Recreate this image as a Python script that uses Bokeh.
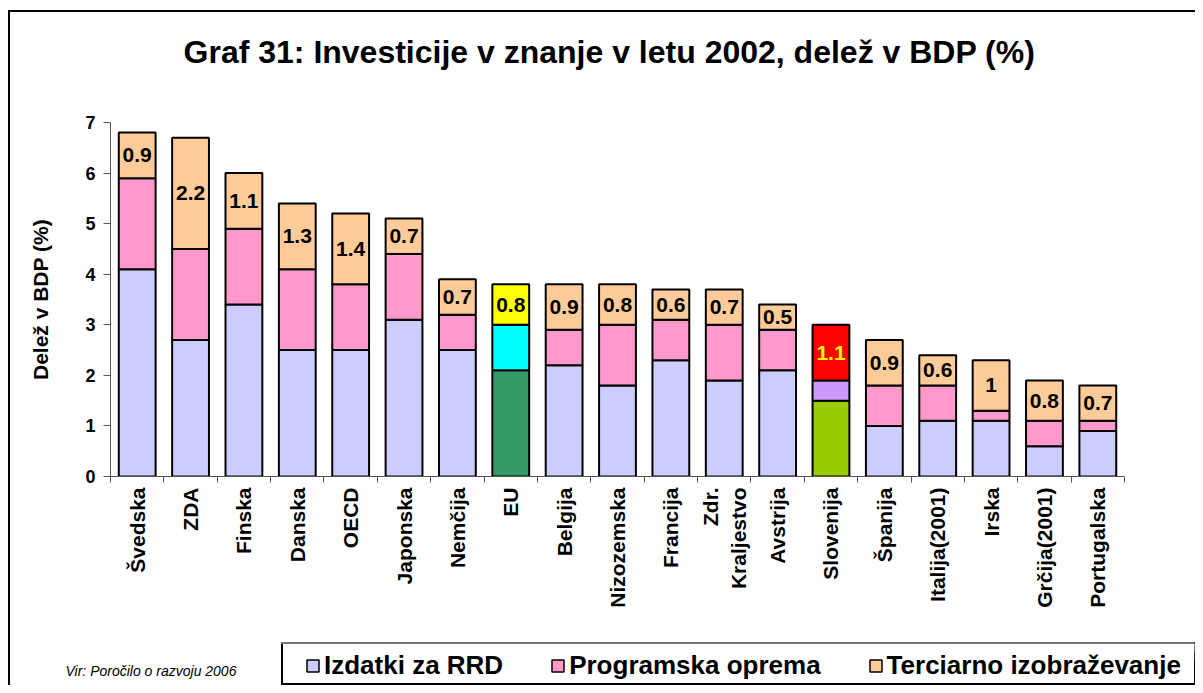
import numpy as np
from bokeh.plotting import figure
from bokeh.layouts import column
from bokeh.models import (ColumnDataSource, FixedTicker, Legend, LegendItem,
                          Label, Range1d)
from bokeh.core.properties import value
from bokeh.embed import file_html
from bokeh.resources import INLINE

# ---------------- data ----------------
countries = ["Švedska", "ZDA", "Finska", "Danska", "OECD", "Japonska", "Nemčija",
             "EU", "Belgija", "Nizozemska", "Francija", "Zdr.\nKraljestvo",
             "Avstrija", "Slovenija", "Španija", "Italija(2001)", "Irska",
             "Grčija(2001)", "Portugalska"]
rrd = [4.1, 2.7, 3.4, 2.5, 2.5, 3.1, 2.5, 2.1, 2.2, 1.8, 2.3, 1.9, 2.1, 1.5,
       1.0, 1.1, 1.1, 0.6, 0.9]
software = [1.8, 1.8, 1.5, 1.6, 1.3, 1.3, 0.7, 0.9, 0.7, 1.2, 0.8, 1.1, 0.8,
            0.4, 0.8, 0.7, 0.2, 0.5, 0.2]
tertiary = [0.9, 2.2, 1.1, 1.3, 1.4, 0.7, 0.7, 0.8, 0.9, 0.8, 0.6, 0.7, 0.5,
            1.1, 0.9, 0.6, 1.0, 0.8, 0.7]
tertiary_labels = ["0.9", "2.2", "1.1", "1.3", "1.4", "0.7", "0.7", "0.8",
                   "0.9", "0.8", "0.6", "0.7", "0.5", "1.1", "0.9", "0.6",
                   "1", "0.8", "0.7"]
series_names = ["Izdatki za RRD", "Programska oprema", "Terciarno izobraževanje"]
y_ticks = [0, 1, 2, 3, 4, 5, 6, 7]

title_text = "Graf 31: Investicije v znanje v letu 2002, delež v BDP (%)"
y_title = "Delež v BDP (%)"
source_note = "Vir: Poročilo o razvoju 2006"

# ---------------- styles ----------------
base_colors = ["#CCCCFF", "#FF99CC", "#FFCC99"]
special_colors = {"EU": ["#339966", "#00FFFF", "#FFFF00"],
                  "Slovenija": ["#99CC00", "#CC99FF", "#FF0000"]}
special_label_color = {"Slovenija": "#FFFF00"}
FONT = "Liberation Sans"
W = 1195
H_TOP = 100
H_MAIN = 540
H_LEG = 45


def strip(height):
    f = figure(width=W, height=height, output_backend="svg", toolbar_location=None,
               x_range=Range1d(-40, -20), y_range=Range1d(0, 7),
               x_axis_type=None, y_axis_type=None, min_border=0)
    f.frame_align = False
    f.background_fill_alpha = 0
    f.border_fill_alpha = 0
    f.outline_line_color = None
    f.xgrid.visible = False
    f.ygrid.visible = False
    return f


n = len(countries)
xc = np.arange(n) + 0.5
values = [np.array(rrd), np.array(software), np.array(tertiary)]
bottoms = [np.zeros(n), values[0], values[0] + values[1]]
tops = [bottoms[i] + values[i] for i in range(3)]

# ---------------- title strip ----------------
t = strip(H_TOP)
t.add_layout(Label(x=609, y=H_TOP - 51, x_units="screen", y_units="screen",
                   text=title_text, text_align="center", text_baseline="alphabetic",
                   text_font=FONT, text_font_style="bold", text_font_size="32px",
                   text_color="black"))

# ---------------- main chart ----------------
p = figure(width=W, height=H_MAIN, output_backend="svg", toolbar_location=None,
           x_range=Range1d(0, n), y_range=Range1d(0, 7),
           min_border_left=110, min_border_right=71, min_border_top=122 - H_TOP,
           min_border_bottom=H_MAIN - (476 - H_TOP))
p.frame_align = False
p.background_fill_color = "white"
p.border_fill_alpha = 0
p.outline_line_color = None
p.xgrid.visible = False
p.ygrid.visible = False

sources = []
for i in range(3):
    colors = [special_colors.get(c, base_colors)[i] for c in countries]
    src = ColumnDataSource(dict(x=xc, bottom=bottoms[i], top=tops[i], color=colors))
    sources.append(src)
    p.vbar(x="x", bottom="bottom", top="top", width=0.69, fill_color="color",
           line_color="black", line_width=2, source=src)

lab_src = ColumnDataSource(dict(
    x=xc, y=(bottoms[2] + tops[2]) / 2, text=tertiary_labels,
    color=[special_label_color.get(c, "black") for c in countries]))
p.text(x="x", y="y", text="text", source=lab_src, text_align="center",
       text_baseline="middle", text_font=value(FONT), text_font_style="bold",
       text_font_size="21px", text_color="color")

xa = p.xaxis[0]
xa.ticker = FixedTicker(ticks=list(xc), minor_ticks=list(range(n + 1)))
xa.major_label_overrides = {float(x): c for x, c in zip(xc, countries)}
xa.major_label_orientation = np.pi / 2
xa.major_tick_line_color = None
xa.major_tick_out = 6
xa.major_tick_in = 0
xa.minor_tick_line_color = "#555555"
xa.minor_tick_out = 6
xa.minor_tick_in = 0
xa.axis_line_color = "#555555"
xa.major_label_standoff = 5
xa.major_label_text_font = FONT
xa.major_label_text_font_style = "bold"
xa.major_label_text_font_size = "21px"
xa.major_label_text_color = "black"

ya = p.yaxis[0]
ya.ticker = FixedTicker(ticks=y_ticks)
ya.axis_line_color = "#555555"
ya.major_tick_line_color = "#555555"
ya.major_tick_out = 7
ya.major_tick_in = 0
ya.minor_tick_line_color = None
ya.major_label_standoff = 8
ya.major_label_text_font = FONT
ya.major_label_text_font_style = "bold"
ya.major_label_text_font_size = "18px"
ya.major_label_text_color = "black"
ya.axis_label = y_title
ya.axis_label_text_font = FONT
ya.axis_label_text_font_style = "bold"
ya.axis_label_text_font_size = "21px"
ya.axis_label_text_color = "black"
ya.axis_label_standoff = 30

# ---------------- legend strip ----------------
# legend keys reuse the series data, drawn outside this strip's visible range
q = strip(H_LEG)
keys = []
for i in range(3):
    r = q.vbar(x="x", bottom="bottom", top="top", width=0.69, source=sources[i],
               fill_color=base_colors[i], line_color="black", line_width=1.5)
    keys.append(r)

legend = Legend(items=[LegendItem(label=series_names[i], renderers=[keys[i]], index=0)
                       for i in range(3)],
                orientation="horizontal", location=(305, 4),
                border_line_color=None, background_fill_alpha=0, padding=0,
                spacing=47, glyph_width=15, glyph_height=15, label_standoff=4,
                label_text_font=FONT, label_text_font_style="bold",
                label_text_font_size="26px", label_text_color="black",
                label_height=28)
q.add_layout(legend)

q.add_layout(Label(x=65, y=7, x_units="screen", y_units="screen",
                   text=source_note, text_font=FONT, text_font_style="italic",
                   text_font_size="14px", text_color="black"))

frame_bg = ", ".join([
    "linear-gradient(#000,#000) 8px 10px / 2px calc(100% - 10px) no-repeat",
    "linear-gradient(#000,#000) 8px 10px / calc(100% - 8px) 2px no-repeat",
    "linear-gradient(#777,#777) 281px 642px / calc(100% - 281px) 2px no-repeat",
    "linear-gradient(#000,#000) 281px 642px / 2px 42px no-repeat",
    "linear-gradient(#000,#000) 281px 683px / calc(100% - 281px) 2px no-repeat",
    "#ffffff",
])
layout = column(t, p, q, spacing=0, styles={"background": frame_bg})

open("out.html", "w").write(file_html(layout, INLINE))
